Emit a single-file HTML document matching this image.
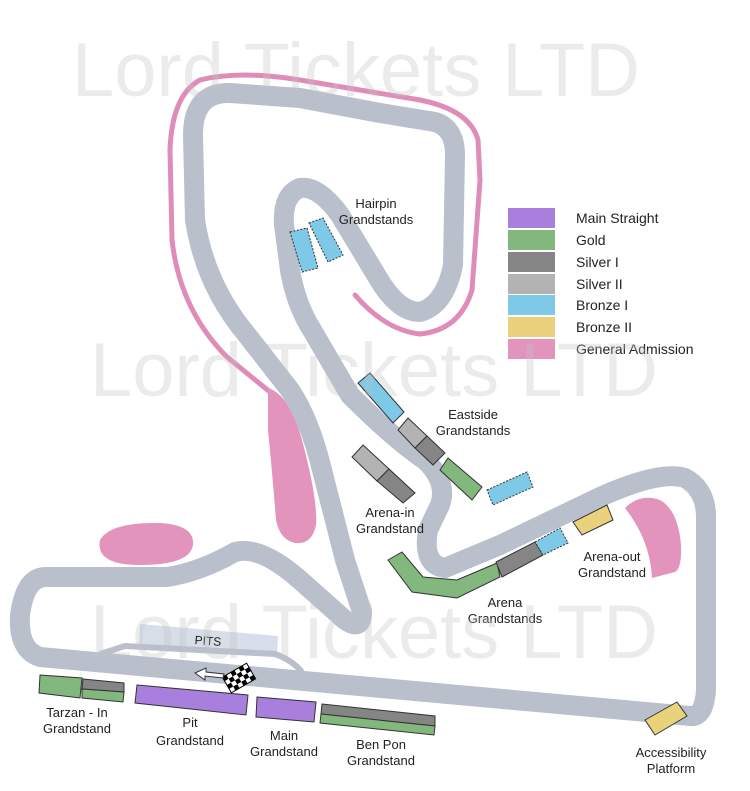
<!DOCTYPE html>
<html><head><meta charset="utf-8"><style>
html,body{margin:0;padding:0;background:#fff;}
svg{display:block;font-family:"Liberation Sans",Arial,sans-serif;}
</style></head><body>
<svg width="750" height="791" viewBox="0 0 750 791" xmlns="http://www.w3.org/2000/svg">
<rect width="750" height="791" fill="#fff"/>
<path d="M270,392 L227,357 Q180,310 172,240 L170,150 Q172,95 200,80 Q240,70 300,80 L420,100 Q470,110 478,140 L480,180 L472,290 Q460,330 420,334 Q385,330 355,295" fill="none" stroke="#e08cb8" stroke-width="5" stroke-linecap="round"/>
<path d="M268,388 Q290,395 302,440 Q318,500 316,525 Q312,545 295,543 Q280,540 276,520 Q272,470 268,430 Z" fill="#e394bd"/>
<path d="M100,540 Q110,522 160,523 Q195,525 193,545 Q190,565 140,565 Q95,565 100,540 Z" fill="#e394bd"/>
<path d="M625,508 Q640,493 660,500 Q678,510 681,545 Q682,568 675,572 L652,578 Q650,540 625,508 Z" fill="#e394bd"/>
<polygon points="140,624 278,636 277,656 139,645" fill="#d7dee9"/>
<path d="M100,654 L125,646 L275,654 Q292,660 302,672" fill="none" stroke="#b9c0cc" stroke-width="6"/>
<path d="M690,716 L40,657 Q18,650 20,615 Q25,578 45,577 L167,577 Q200,572 235,552 Q260,545 300,580 L345,620 Q362,632 362,612 L345,560 L322,470 Q310,420 290,390 L247,335 Q205,285 195,220 L193,135 Q193,92 230,93 L300,98 L380,113 L435,122 Q455,128 455,155 L453,265 Q445,305 420,312 Q398,312 378,278 L340,215 Q318,185 300,188 Q282,195 284,225 L290,270 Q296,305 312,330 L350,395 Q395,440 425,460 Q448,482 440,505 L428,530 Q422,565 445,568 L500,545 L600,497 Q660,470 685,478 Q707,490 706,520 L706,690 Q704,718 690,716 Z" fill="none" stroke="#b9c0cc" stroke-width="20" stroke-linejoin="round"/>
<g stroke="#333" stroke-width="1">
<polygon points="290,232 307,228 318,268 302,272" fill="#7ec8e8" stroke-dasharray="2,1.5"/>
<polygon points="309,223 323,218 343,255 328,262" fill="#7ec8e8" stroke-dasharray="2,1.5"/>
<polygon points="358,383 370,373 404,412 393,423" fill="#7ec8e8"/>
<polygon points="398,430 408,418 427,436 415,448" fill="#b3b3b3"/>
<polygon points="415,448 427,436 445,453 433,465" fill="#858585"/>
<polygon points="440,470 448,458 482,487 472,500" fill="#82b77d"/>
<polygon points="487,490 527,472 533,487 493,505" fill="#7ec8e8" stroke-dasharray="2,1.5"/>
<polygon points="352,457 363,445 389,469 377,481" fill="#b3b3b3"/>
<polygon points="377,481 389,469 415,493 403,503" fill="#858585"/>
<polygon points="573,522 607,505 613,520 582,535" fill="#ead27d"/>
<polygon points="388,560 402,552 423,577 457,580 497,563 500,577 457,598 412,592" fill="#82b77d"/>
<polygon points="496,562 535,542 543,555 502,577" fill="#858585"/>
<polygon points="535,542 560,528 568,543 543,555" fill="#7ec8e8" stroke-dasharray="2,1.5"/>
<polygon points="645,720 677,702 687,716 655,735" fill="#ead27d"/>
<polygon points="40,675 82,678 80,698 39,693" fill="#82b77d"/>
<polygon points="83,679 124,683 124,692 82,689" fill="#858585"/>
<polygon points="82,689 124,692 123,702 82,698" fill="#82b77d"/>
<polygon points="137,685 248,695 246,715 135,703" fill="#a87fdc"/>
<polygon points="257,697 316,702 314,722 256,717" fill="#a87fdc"/>
<polygon points="322,704 435,716 435,726 321,714" fill="#858585"/>
<polygon points="321,714 435,726 434,735 320,723" fill="#82b77d"/>
</g>
<g transform="translate(239,678) rotate(-30)">
<rect x="-14" y="-9" width="28" height="18" fill="#fff" stroke="#000" stroke-width="1"/>
<g fill="#000">
<rect x="-14" y="-9" width="4.7" height="4.5"/><rect x="-4.7" y="-9" width="4.7" height="4.5"/><rect x="4.6" y="-9" width="4.7" height="4.5"/>
<rect x="-9.3" y="-4.5" width="4.7" height="4.5"/><rect x="0" y="-4.5" width="4.7" height="4.5"/><rect x="9.3" y="-4.5" width="4.7" height="4.5"/>
<rect x="-14" y="0" width="4.7" height="4.5"/><rect x="-4.7" y="0" width="4.7" height="4.5"/><rect x="4.6" y="0" width="4.7" height="4.5"/>
<rect x="-9.3" y="4.5" width="4.7" height="4.5"/><rect x="0" y="4.5" width="4.7" height="4.5"/><rect x="9.3" y="4.5" width="4.7" height="4.5"/>
</g></g>
<path d="M224,674 L206,672 L206,668 L195,673 L205,680 L205,676 L223,678 Z" fill="#fff" stroke="#333" stroke-width="1"/>
<g font-size="13" fill="#222" text-anchor="middle">
<text x="208" y="645" font-size="12" transform="rotate(4 208 641)">PITS</text>
<text x="376" y="208">Hairpin</text><text x="376" y="224">Grandstands</text>
<text x="473" y="419">Eastside</text><text x="473" y="435">Grandstands</text>
<text x="390" y="517">Arena-in</text><text x="390" y="533">Grandstand</text>
<text x="612" y="561">Arena-out</text><text x="612" y="577">Grandstand</text>
<text x="505" y="607">Arena</text><text x="505" y="623">Grandstands</text>
<text x="77" y="717">Tarzan - In</text><text x="77" y="733">Grandstand</text>
<text x="190" y="727">Pit</text><text x="190" y="745">Grandstand</text>
<text x="284" y="740">Main</text><text x="284" y="756">Grandstand</text>
<text x="381" y="749">Ben Pon</text><text x="381" y="765">Grandstand</text>
<text x="671" y="757">Accessibility</text><text x="671" y="773">Platform</text>
</g>
<g>
<rect x="508" y="208" width="47" height="20" fill="#a87fdc"/>
<rect x="508" y="230" width="47" height="20" fill="#82b77d"/>
<rect x="508" y="252" width="47" height="20" fill="#858585"/>
<rect x="508" y="274" width="47" height="20" fill="#b3b3b3"/>
<rect x="508" y="295" width="47" height="20" fill="#7ec8e8"/>
<rect x="508" y="317" width="47" height="20" fill="#ead27d"/>
<rect x="508" y="339" width="47" height="20" fill="#e394bd"/>
</g>
<g font-size="14" fill="#222">
<text x="576" y="223">Main Straight</text>
<text x="576" y="245">Gold</text>
<text x="576" y="267">Silver I</text>
<text x="576" y="289">Silver II</text>
<text x="576" y="310">Bronze I</text>
<text x="576" y="332">Bronze II</text>
<text x="576" y="354">General Admission</text>
</g>
<g font-size="76" fill="rgba(195,195,195,0.33)">
<text x="72" y="96" textLength="568" lengthAdjust="spacingAndGlyphs">Lord Tickets LTD</text>
<text x="90" y="396" textLength="568" lengthAdjust="spacingAndGlyphs">Lord Tickets LTD</text>
<text x="90" y="658" textLength="568" lengthAdjust="spacingAndGlyphs">Lord Tickets LTD</text>
</g>
</svg>
</body></html>
